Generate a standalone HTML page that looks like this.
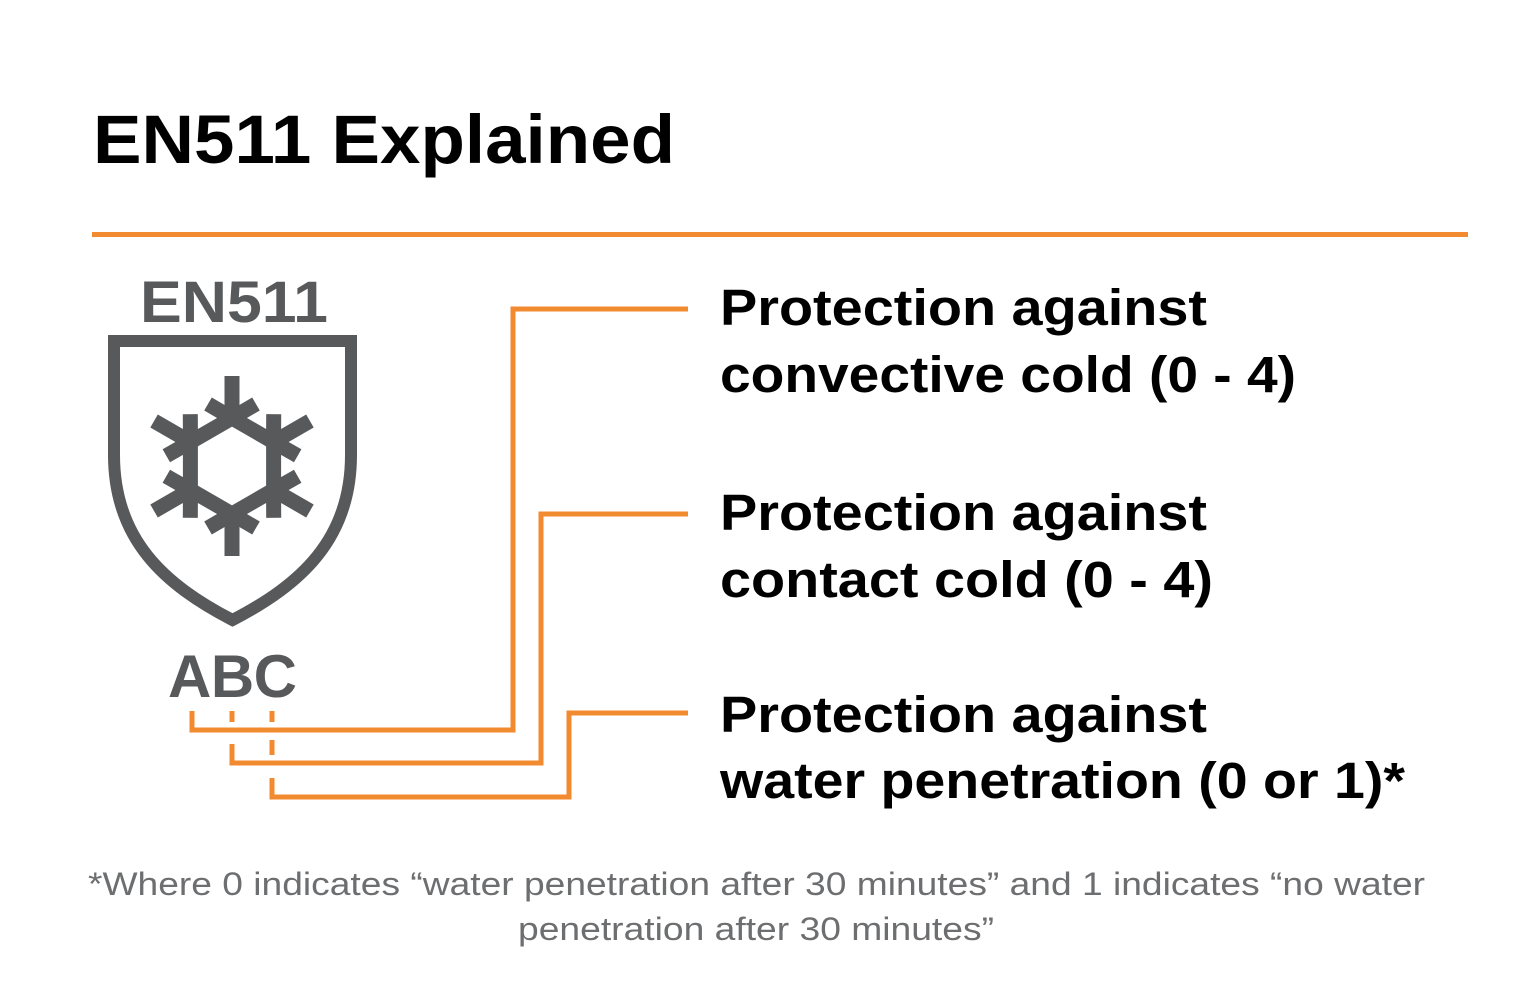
<!DOCTYPE html>
<html><head><meta charset="utf-8"><style>
html,body{margin:0;padding:0;background:#fff;}
svg{display:block;}
</style></head><body>
<svg width="1536" height="998" viewBox="0 0 1536 998" xmlns="http://www.w3.org/2000/svg">
<rect width="1536" height="998" fill="#fff"/>
<text x="93" y="163" font-family="Liberation Sans, Arial, sans-serif" font-weight="bold" font-size="69" fill="#000" textLength="582" lengthAdjust="spacingAndGlyphs">EN511 Explained</text>
<rect x="92" y="232" width="1376" height="5" fill="#f28a30"/>

<text x="140" y="322" font-family="Liberation Sans, Arial, sans-serif" font-weight="bold" font-size="58" fill="#58595b" textLength="188" lengthAdjust="spacingAndGlyphs">EN511</text>
<path d="M114 341 L351 341 L351 455 C351 540 300 585 232.5 620 C165 585 114 540 114 455 Z" fill="none" stroke="#58595b" stroke-width="12" stroke-linejoin="miter"/>

<g stroke="#58595b" stroke-width="15" fill="none" stroke-linecap="butt">
 <g transform="translate(232,466)">
  <g id="arm">
   <line x1="0" y1="-48" x2="0" y2="-90"/>
   <line x1="0" y1="-48" x2="-24" y2="-62"/>
   <line x1="0" y1="-48" x2="24" y2="-62"/>
  </g>
  <use href="#arm" transform="rotate(60)"/>
  <use href="#arm" transform="rotate(120)"/>
  <use href="#arm" transform="rotate(180)"/>
  <use href="#arm" transform="rotate(240)"/>
  <use href="#arm" transform="rotate(300)"/>
  <polygon points="0,-48 41.6,-24 41.6,24 0,48 -41.6,24 -41.6,-24" stroke-linejoin="miter"/>
 </g>
</g>

<text x="168" y="697" font-family="Liberation Sans, Arial, sans-serif" font-weight="bold" font-size="60" fill="#58595b" textLength="129" lengthAdjust="spacing">ABC</text>

<g stroke="#f28a30" stroke-width="5" fill="none">
 <polyline points="192,711 192,730 513,730 513,309 688,309"/>
 <line x1="232" y1="711" x2="232" y2="722"/>
 <polyline points="232,744 232,763 541,763 541,514 688,514"/>
 <line x1="272" y1="711" x2="272" y2="722"/>
 <line x1="272" y1="740" x2="272" y2="755"/>
 <polyline points="272,778 272,797 569,797 569,713 688,713"/>
</g>

<g font-family="Liberation Sans, Arial, sans-serif" font-weight="bold" font-size="51" fill="#000">
 <text x="720" y="325" textLength="487" lengthAdjust="spacingAndGlyphs">Protection against</text>
 <text x="720" y="392" textLength="576" lengthAdjust="spacingAndGlyphs">convective cold (0 - 4)</text>
 <text x="720" y="530" textLength="487" lengthAdjust="spacingAndGlyphs">Protection against</text>
 <text x="720" y="597" textLength="493" lengthAdjust="spacingAndGlyphs">contact cold (0 - 4)</text>
 <text x="720" y="732" textLength="487" lengthAdjust="spacingAndGlyphs">Protection against</text>
 <text x="720" y="798" textLength="685" lengthAdjust="spacingAndGlyphs">water penetration (0 or 1)*</text>
</g>

<g font-family="Liberation Sans, Arial, sans-serif" font-size="32" fill="#6d6e70">
 <text x="88" y="895" textLength="1337" lengthAdjust="spacingAndGlyphs">*Where 0 indicates “water penetration after 30 minutes” and 1 indicates “no water</text>
 <text x="518" y="940" textLength="476" lengthAdjust="spacingAndGlyphs">penetration after 30 minutes”</text>
</g>
</svg>
</body></html>
